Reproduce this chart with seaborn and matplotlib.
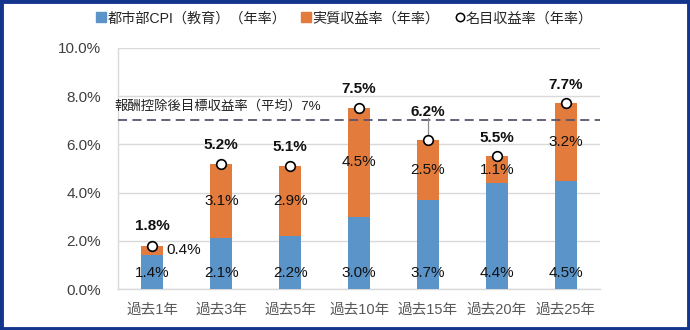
import matplotlib
matplotlib.use("Agg")
import matplotlib.pyplot as plt
from matplotlib.lines import Line2D
from matplotlib.patches import Rectangle
from matplotlib.ticker import MultipleLocator, FuncFormatter
import seaborn as sns
import pandas as pd

# Data (annual rates, %)
periods = ["過去1年", "過去3年", "過去5年", "過去10年", "過去15年", "過去20年", "過去25年"]
cpi_edu = [1.4, 2.1, 2.2, 3.0, 3.7, 4.4, 4.5]
real_return = [0.4, 3.1, 2.9, 4.5, 2.5, 1.1, 3.2]
nominal_return = [1.8, 5.2, 5.1, 7.5, 6.2, 5.5, 7.7]
target_rate = 7.0
target_label = "報酬控除後目標収益率（平均）7%"
legend_labels = ["都市部CPI（教育）（年率）", "実質収益率（年率）", "名目収益率（年率）"]

BLUE = "#5B94C8"
ORANGE = "#E27B3C"
NAVY = "#14358C"

sns.set_theme(style="white")
plt.rcParams["font.family"] = ["Liberation Sans", "Noto Sans CJK JP", "DejaVu Sans"]

df = pd.DataFrame({
    "period": periods,
    "cpi": cpi_edu,
    "real": real_return,
    "nominal": nominal_return,
})

fig = plt.figure(figsize=(6.9, 3.3), dpi=100)
ax = fig.add_axes([0.171, 0.124, 0.699, 0.731])

# Stacked bars: full nominal height in orange, CPI portion in blue over it
sns.barplot(data=df, x="period", y="nominal", color=ORANGE, width=0.32,
            saturation=1, ax=ax, edgecolor="none", zorder=3)
sns.barplot(data=df, x="period", y="cpi", color=BLUE, width=0.32,
            saturation=1, ax=ax, edgecolor="none", zorder=4)

# Nominal return markers
sns.scatterplot(data=df, x="period", y="nominal", marker="o", s=48,
                facecolor="white", edgecolor="black", linewidth=1.2,
                ax=ax, zorder=6, legend=False)

# Target line
ax.axhline(target_rate, color="#5A5470", linewidth=1.3, dashes=(5, 3), zorder=5)
ax.text(-0.008, target_rate + 0.32, target_label, transform=ax.get_yaxis_transform(),
        ha="left", va="bottom", fontsize=9.6, color="#222222", zorder=7)

# Segment labels
for i, (c, r, n) in enumerate(zip(cpi_edu, real_return, nominal_return)):
    ax.text(i, 0.65, f"{c:.1f}%", ha="center", va="center", fontsize=11,
            color="#111111", zorder=7)
    if i == 0:
        ax.text(i + 0.46, c + r / 2, f"{r:.1f}%", ha="center", va="center",
                fontsize=11, color="#111111", zorder=7)
    else:
        ax.text(i, c + r / 2, f"{r:.1f}%", ha="center", va="center", fontsize=11,
                color="#111111", zorder=7)

# Nominal labels (bold) above markers
offsets = [0.8, 0.78, 0.78, 0.78, 1.15, 0.78, 0.78]
for i, (n, off) in enumerate(zip(nominal_return, offsets)):
    ax.text(i, n + off, f"{n:.1f}%", ha="center", va="center", fontsize=11,
            fontweight="bold", color="#111111", zorder=7)
# leader line for the label lifted above the target line
ax.plot([4, 4], [nominal_return[4] + 0.18, nominal_return[4] + 0.88],
        color="#8C8C8C", linewidth=0.9, zorder=5)

# Axes styling
ax.set_ylim(0, 10)
ax.set_xlim(-0.5, len(periods) - 0.5)
ax.yaxis.set_major_locator(MultipleLocator(2))
ax.yaxis.set_minor_locator(MultipleLocator(0.5))
ax.yaxis.set_major_formatter(FuncFormatter(lambda v, p: f"{v:.1f}%"))
ax.grid(axis="y", which="major", color="#D9D9D9", linewidth=1.0, zorder=0)
ax.set_axisbelow(True)
ax.set_xlabel("")
ax.set_ylabel("")
for side in ["top", "right"]:
    ax.spines[side].set_visible(False)
for side in ["left", "bottom"]:
    ax.spines[side].set_color("#D9D9D9")
    ax.spines[side].set_linewidth(1.0)
ax.tick_params(axis="y", which="major", length=0, labelsize=11, labelcolor="#404040", pad=12)
ax.tick_params(axis="y", which="minor", direction="in", length=4, color="#D9D9D9", width=1)
ax.tick_params(axis="x", length=0, labelsize=10.5, labelcolor="#595959", pad=10)

# Legend
handles = [
    Line2D([], [], marker="s", linestyle="none", markersize=7,
           markerfacecolor=BLUE, markeredgecolor=BLUE),
    Line2D([], [], marker="s", linestyle="none", markersize=7,
           markerfacecolor=ORANGE, markeredgecolor=ORANGE),
    Line2D([], [], marker="o", linestyle="none", markersize=6,
           markerfacecolor="white", markeredgecolor="black", markeredgewidth=1.1),
]
fig.legend(handles, legend_labels, loc="center", bbox_to_anchor=(0.5, 0.945),
           ncol=3, frameon=False, fontsize=10.2, handlelength=0.6,
           handletextpad=0.15, columnspacing=1.1)

# Figure border
fig.patches.append(Rectangle((0.002, 0.003), 0.996, 0.994, transform=fig.transFigure,
                             fill=False, edgecolor=NAVY, linewidth=3.5, zorder=10))

fig.savefig("out.png", dpi=100)
